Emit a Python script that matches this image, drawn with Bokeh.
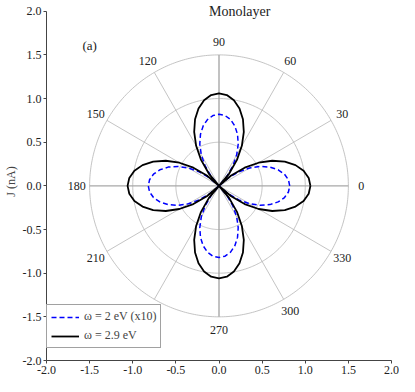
import numpy as np
from bokeh.plotting import figure
from bokeh.models import Range1d, FixedTicker, Label, Legend, LegendItem, ColumnDataSource, NumeralTickFormatter
from bokeh.embed import file_html
from bokeh.resources import INLINE
from bokeh.core.properties import value

# ---------------- data ----------------
angles_deg = list(range(0, 361, 5))
r_black = [1.06, 1.044, 0.996, 0.918, 0.812, 0.681, 0.53, 0.363, 0.184, 0.0, 0.184, 0.363, 0.53, 0.681, 0.812, 0.918, 0.996, 1.044,
           1.06, 1.044, 0.996, 0.918, 0.812, 0.681, 0.53, 0.363, 0.184, 0.0, 0.184, 0.363, 0.53, 0.681, 0.812, 0.918, 0.996, 1.044,
           1.06, 1.044, 0.996, 0.918, 0.812, 0.681, 0.53, 0.363, 0.184, 0.0, 0.184, 0.363, 0.53, 0.681, 0.812, 0.918, 0.996, 1.044,
           1.06, 1.044, 0.996, 0.918, 0.812, 0.681, 0.53, 0.363, 0.184, 0.0, 0.184, 0.363, 0.53, 0.681, 0.812, 0.918, 0.996, 1.044,
           1.06]
r_blue = [0.82, 0.808, 0.771, 0.71, 0.628, 0.527, 0.41, 0.28, 0.142, 0.0, 0.142, 0.28, 0.41, 0.527, 0.628, 0.71, 0.771, 0.808,
          0.82, 0.808, 0.771, 0.71, 0.628, 0.527, 0.41, 0.28, 0.142, 0.0, 0.142, 0.28, 0.41, 0.527, 0.628, 0.71, 0.771, 0.808,
          0.82, 0.808, 0.771, 0.71, 0.628, 0.527, 0.41, 0.28, 0.142, 0.0, 0.142, 0.28, 0.41, 0.527, 0.628, 0.71, 0.771, 0.808,
          0.82, 0.808, 0.771, 0.71, 0.628, 0.527, 0.41, 0.28, 0.142, 0.0, 0.142, 0.28, 0.41, 0.527, 0.628, 0.71, 0.771, 0.808,
          0.82]
series_labels = ["\u03c9 = 2 eV (x10)", "\u03c9 = 2.9 eV"]
grid_radii = [0.5, 1.0, 1.5]
spoke_angles = [0, 30, 60, 90, 120, 150, 180, 210, 240, 270, 300, 330]
spoke_labels = ["0", "30", "60", "90", "120", "150", "180", "210", "240", "270", "300", "330"]
axis_ticks = [-2.0, -1.5, -1.0, -0.5, 0.0, 0.5, 1.0, 1.5, 2.0]
label_radius = 1.65
title_text = "Monolayer"
panel_text = "(a)"
y_label = "J (nA)"

FONT = "Liberation Serif"

p = figure(width=399, height=376, x_range=Range1d(-2, 2), y_range=Range1d(-2, 2.1),
           output_backend="svg", toolbar_location=None,
           min_border_left=0, min_border_right=8, min_border_top=2, min_border_bottom=0)
p.grid.visible = False
p.outline_line_color = None
p.background_fill_color = "white"

for ax in (p.xaxis[0], p.yaxis[0]):
    ax.ticker = FixedTicker(ticks=axis_ticks)
    ax.formatter = NumeralTickFormatter(format="0.0")
    ax.bounds = (-2, 2)
    ax.minor_tick_line_color = None
    ax.major_tick_out = 3
    ax.major_tick_in = 0
    ax.major_label_text_font = FONT
    ax.major_label_text_font_size = "12px"
    ax.major_label_text_color = "#222222"
    ax.axis_line_color = "#444444"
    ax.major_tick_line_color = "#444444"
    ax.major_label_standoff = 2
p.yaxis.axis_label = y_label
p.yaxis.axis_label_text_font = FONT
p.yaxis.axis_label_text_font_style = "normal"
p.yaxis.axis_label_text_font_size = "12px"
p.yaxis.axis_label_standoff = 2

# polar grid circles
t = np.linspace(0, 2 * np.pi, 361)
p.multi_line(xs=[list(r * np.cos(t)) for r in grid_radii], ys=[list(r * np.sin(t)) for r in grid_radii],
             line_color="#b5b5b5", line_width=0.8)
# spokes
sa = np.deg2rad(spoke_angles)
rmax = max(grid_radii)
main = [a % 90 == 0 for a in spoke_angles]
p.segment(x0=[0] * len(sa), y0=[0] * len(sa), x1=list(rmax * np.cos(sa)), y1=list(rmax * np.sin(sa)),
          line_color=["#a8a8a8" if m else "#b5b5b5" for m in main],
          line_width=[1.4 if m else 0.8 for m in main])
# spoke labels
p.text(x=list(label_radius * np.cos(sa)), y=list(label_radius * np.sin(sa)), text=spoke_labels,
       text_align="center", text_baseline="middle", text_font=value(FONT), text_font_size="12px",
       text_color="#222222")

# curves
th = np.deg2rad(angles_deg)
src_blue = ColumnDataSource(dict(x=np.array(r_blue) * np.cos(th), y=np.array(r_blue) * np.sin(th)))
src_black = ColumnDataSource(dict(x=np.array(r_black) * np.cos(th), y=np.array(r_black) * np.sin(th)))
l_blue = p.line("x", "y", source=src_blue, line_color="#0000ff", line_width=1.5, line_dash="5 3")
l_black = p.line("x", "y", source=src_black, line_color="black", line_width=1.8)

legend = Legend(items=[LegendItem(label=series_labels[0], renderers=[l_blue]),
                       LegendItem(label=series_labels[1], renderers=[l_black])],
                location=(0, 12), label_text_font=FONT, label_text_font_size="12px",
                glyph_width=28, glyph_height=12, label_height=12, spacing=4, padding=4,
                margin=0, label_standoff=5, border_line_color="#444444", border_line_width=1,
                background_fill_alpha=1.0)
p.add_layout(legend, "center")

p.add_layout(Label(x=-1.5, y=1.61, text=panel_text, text_align="center", text_baseline="middle",
                   text_font=FONT, text_font_size="13px", text_color="#222222"))
p.add_layout(Label(x=0.24, y=2.0, text=title_text, text_align="center", text_baseline="middle",
                   text_font=FONT, text_font_size="14px", text_color="#222222"))

open("out.html", "w").write(file_html(p, INLINE))
